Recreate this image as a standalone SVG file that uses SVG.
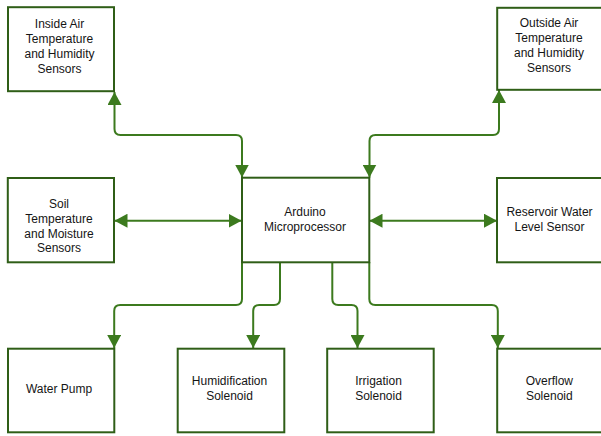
<svg xmlns="http://www.w3.org/2000/svg" width="601" height="436" viewBox="0 0 601 436">
<style>
.box{fill:#fff;stroke:#2f5e17;stroke-width:2}
.lbl{font-family:"Liberation Sans",Arial,Helvetica,sans-serif;font-size:12px;fill:#151515;text-anchor:middle}
.con{fill:none;stroke:#3c7a1e;stroke-width:2}
</style>
<defs>
<marker id="ah" markerUnits="userSpaceOnUse" markerWidth="14" markerHeight="14" refX="13" refY="7" orient="auto-start-reverse" viewBox="0 0 14 14">
<path d="M0,0 L13,7 L0,14 z" fill="#3c7a1e"/>
</marker>
</defs>
<rect width="601" height="436" fill="#fff"/>
<g id="connectors">
<path class="con" d="M114.5,92 V129 Q114.5,135 120.5,135 H236 Q242,135 242,141 V177.5" marker-start="url(#ah)" marker-end="url(#ah)"/>
<path class="con" d="M499,90 V129 Q499,135 493,135 H375.5 Q369.5,135 369.5,141 V177.5" marker-start="url(#ah)" marker-end="url(#ah)"/>
<path class="con" d="M114.5,220.7 H241.5" marker-start="url(#ah)" marker-end="url(#ah)"/>
<path class="con" d="M369.5,220.7 H497" marker-start="url(#ah)" marker-end="url(#ah)"/>
<path class="con" d="M242,262 V299 Q242,305 236,305 H120.2 Q114.2,305 114.2,311 V348" marker-end="url(#ah)"/>
<path class="con" d="M280,262 V299 Q280,305 274,305 H259.2 Q253.2,305 253.2,311 V348" marker-end="url(#ah)"/>
<path class="con" d="M332.3,262 V299 Q332.3,305 338.3,305 H351.5 Q357.5,305 357.5,311 V348" marker-end="url(#ah)"/>
<path class="con" d="M369.3,262 V299 Q369.3,305 375.3,305 H491.8 Q497.8,305 497.8,311 V348" marker-end="url(#ah)"/>
</g>
<g id="inside-air">
<rect class="box" x="8" y="7.2" width="106" height="84"/>
<text class="lbl" x="59.5" y="28.3">Inside Air</text>
<text class="lbl" x="59.5" y="43.3">Temperature</text>
<text class="lbl" x="59.5" y="58.3">and Humidity</text>
<text class="lbl" x="59.5" y="73.3">Sensors</text>
</g>
<g id="outside-air">
<rect class="box" x="497.2" y="7.8" width="106" height="82"/>
<text class="lbl" x="549" y="27.3">Outside Air</text>
<text class="lbl" x="549" y="42.3">Temperature</text>
<text class="lbl" x="549" y="57.3">and Humidity</text>
<text class="lbl" x="549" y="72.3">Sensors</text>
</g>
<g id="soil">
<rect class="box" x="7.8" y="178" width="106.2" height="84.3"/>
<text class="lbl" x="59" y="207.6">Soil</text>
<text class="lbl" x="59" y="222.5">Temperature</text>
<text class="lbl" x="59" y="237.5">and Moisture</text>
<text class="lbl" x="59" y="252.4">Sensors</text>
</g>
<g id="arduino">
<rect class="box" x="242" y="177.7" width="127.3" height="84.6"/>
<text class="lbl" x="305" y="215.7">Arduino</text>
<text class="lbl" x="305" y="230.7">Microprocessor</text>
</g>
<g id="reservoir">
<rect class="box" x="497" y="178" width="106" height="84.3"/>
<text class="lbl" x="549.5" y="215.7">Reservoir Water</text>
<text class="lbl" x="549.5" y="230.9">Level Sensor</text>
</g>
<g id="water-pump">
<rect class="box" x="8" y="348.7" width="106.3" height="83.6"/>
<text class="lbl" x="59" y="393.3">Water Pump</text>
</g>
<g id="humidification">
<rect class="box" x="177.7" y="348.7" width="106.6" height="83.6"/>
<text class="lbl" x="229.5" y="385.3">Humidification</text>
<text class="lbl" x="229.5" y="400.3">Solenoid</text>
</g>
<g id="irrigation">
<rect class="box" x="327.2" y="348.7" width="106.5" height="83.6"/>
<text class="lbl" x="378.5" y="385.3">Irrigation</text>
<text class="lbl" x="378.5" y="400.3">Solenoid</text>
</g>
<g id="overflow">
<rect class="box" x="497.2" y="348.7" width="106" height="83.6"/>
<text class="lbl" x="549.3" y="385.3">Overflow</text>
<text class="lbl" x="549.3" y="400.3">Solenoid</text>
</g>
</svg>
